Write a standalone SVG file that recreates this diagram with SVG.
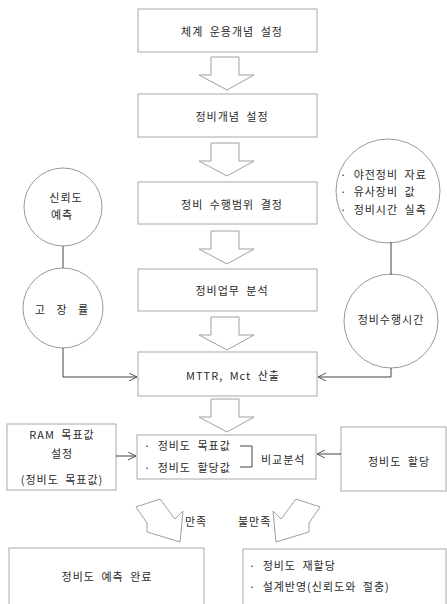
<svg xmlns="http://www.w3.org/2000/svg" width="447" height="604" viewBox="0 0 447 604">
<defs>
<style>
.box{fill:#fff;stroke:#a8a8a8;stroke-width:1}
.blk{stroke:#a0a0a0;stroke-width:1}
.cir{fill:#fff;stroke:#999;stroke-width:1}
.ln{fill:none;stroke:#444;stroke-width:1}
.t{font-family:"Noto Sans CJK KR","Noto Sans",sans-serif;font-size:11px;fill:#2a2a2a;letter-spacing:1px;word-spacing:3px}
.m{text-anchor:middle}
</style>
<marker id="ah" markerWidth="10" markerHeight="10" refX="8" refY="4" orient="auto" markerUnits="userSpaceOnUse">
<path d="M0,0 L8,4 L0,8" fill="none" stroke="#555" stroke-width="1"/>
</marker>
</defs>
<rect width="447" height="604" fill="#fff"/>

<g id="n1"><rect class="box" x="138" y="9" width="179" height="43"/><text class="t m" x="232" y="36">체계 운용개념 설정</text></g>
<g id="n2"><rect class="box" x="138" y="94" width="179" height="43"/><text class="t m" x="232" y="121">정비개념 설정</text></g>
<g id="n3"><rect class="box" x="138" y="182" width="179" height="42"/><text class="t m" x="232" y="209">정비 수행범위 결정</text></g>
<g id="n4"><rect class="box" x="138" y="269" width="179" height="42"/><text class="t m" x="232" y="295">정비업무 분석</text></g>
<g id="n5"><rect class="box" x="138" y="352" width="179" height="44"/><text class="t m" x="233" y="380">MTTR, Mct 산출</text></g>
<g id="n6"><rect class="box" x="137" y="435" width="179" height="44"/>
<text class="t" x="144" y="450">· 정비도 목표값</text>
<text class="t" x="144" y="472">· 정비도 할당값</text>
<path class="ln" d="M240,446 H252 V467 H240"/>
<text class="t" x="261" y="464">비교분석</text></g>
<g id="n7"><rect class="box" x="7" y="424" width="109" height="66"/>
<text class="t m" x="62" y="439">RAM 목표값</text>
<text class="t m" x="62" y="458">설정</text>
<text class="t m" x="62" y="484">(정비도 목표값)</text></g>
<g id="n8"><rect class="box" x="341" y="427" width="105" height="64"/><text class="t m" x="399" y="466">정비도 할당</text></g>
<g id="n9"><rect class="box" x="9" y="548" width="195" height="70"/><text class="t m" x="107" y="581">정비도 예측 완료</text></g>
<g id="n10"><rect class="box" x="243" y="549" width="203" height="70"/>
<text class="t" x="249" y="570">· 정비도 재할당</text>
<text class="t" x="249" y="591">· 설계반영(신뢰도와 절충)</text></g>

<g id="c1"><circle class="cir" cx="63" cy="207" r="39"/>
<text class="t m" x="66" y="202">신뢰도</text><text class="t m" x="62" y="219">예측</text></g>
<g id="c2"><circle class="cir" cx="63" cy="308" r="40"/><text class="t m" x="63" y="314" style="letter-spacing:3px">고 장 률</text></g>
<g id="c3"><circle class="cir" cx="388" cy="191" r="52"/>
<text class="t" x="340" y="179">· 야전정비 자료</text>
<text class="t" x="340" y="196">· 유사장비 값</text>
<text class="t" x="340" y="214">· 정비시간 실측</text></g>
<g id="c4"><circle class="cir" cx="391" cy="321" r="47"/><text class="t m" x="391" y="324">정비수행시간</text></g>

<g id="connectors" fill="#ffffff">
<path class="blk" style="fill:#ffffff" d="M211,57 H239 V75 H254 L227,90 L199,75 H211 Z"/>
<path class="blk" style="fill:#ffffff" d="M211,143 H239 V161 H254 L227,176 L199,161 H211 Z"/>
<path class="blk" style="fill:#ffffff" d="M211,231 H239 V249 H254 L227,264 L199,249 H211 Z"/>
<path class="blk" style="fill:#ffffff" d="M211,317 H239 V335 H254 L227,350 L199,335 H211 Z"/>
<path class="blk" style="fill:#ffffff" d="M211,399 H239 V417 H254 L227,432 L199,417 H211 Z"/>
<polygon class="blk" style="fill:#ffffff" points="136,507 160,499 175,519 183,511 180,542 147,532 147,523"/>
<polygon class="blk" style="fill:#ffffff" points="320,507 296,499 281,519 273,511 276,542 309,532 309,523"/>
<text class="t" x="185" y="526">만족</text>
<text class="t" x="238" y="526">불만족</text>
<path class="ln" d="M63,246 V268"/>
<path class="ln" d="M391,242 V275"/>
<path class="ln" d="M63,348 V377 H137" marker-end="url(#ah)"/>
<path class="ln" d="M391,368 V377 H318" marker-end="url(#ah)"/>
<path class="ln" d="M116,456 H136" marker-end="url(#ah)"/>
<path class="ln" d="M341,454 H317" marker-end="url(#ah)"/>
</g>
</svg>
